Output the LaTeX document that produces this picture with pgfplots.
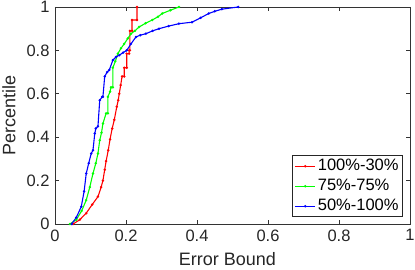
\documentclass[border=0pt]{standalone}
\usepackage{pgfplots}
\pgfplotsset{compat=1.18}
\usepackage{fontspec}
\setmainfont{Liberation Sans}
\definecolor{mred}{rgb}{1,0,0}
\definecolor{mgreen}{rgb}{0,1,0}
\definecolor{mblue}{rgb}{0,0,1}

\begin{document}
\begin{tikzpicture}
\begin{axis}[
    scale only axis,
    width=355pt, height=217pt,
    xmin=0, xmax=1, ymin=0, ymax=1,
    xtick={0,0.2,...,1}, ytick={0,0.2,...,1},
    xticklabels={0,0.2,0.4,0.6,0.8,1},
    yticklabels={0,0.2,0.4,0.6,0.8,1},
    tick align=inside,
    tick pos=both,
    major tick length=4pt,
    axis line style={black!80, line width=0.6pt},
    every tick/.style={black!80, line width=0.6pt},
    tick label style={font=\fontsize{16.5}{19}\selectfont, text=black!85},
    xticklabel style={yshift=-2pt},
    yticklabel style={xshift=-2pt},
    label style={font=\fontsize{18}{20}\selectfont, text=black!85},
    /pgf/number format/assume math mode=true,
    xlabel={Error Bound},
    ylabel={Percentile},
    xlabel style={at={(axis description cs:0.5,-0.163)}, anchor=center, xshift=-5pt},
    ylabel style={at={(axis description cs:-0.13,0.5)}, anchor=center},
    legend style={at={(0.980,0.032)}, anchor=south east, draw=black!85, line width=0.6pt,
        font=\fontsize{16.5}{19}\selectfont, inner xsep=2pt, inner ysep=1pt, row sep=1pt,
        nodes={inner ysep=2pt, text height=11.5pt, text depth=3.5pt}},
    legend cell align=left,
    legend image code/.code={
        \draw[mark repeat=2, mark phase=2] plot coordinates {(0cm,0cm) (10pt,0cm) (20pt,0cm)};},
    every axis plot/.append style={line width=1.1pt, mark=*, mark size=0.6pt},
]
\addplot[color=mred] coordinates {
(0.051,0) (0.070,0.02) (0.088,0.05) (0.105,0.09) (0.121,0.126) (0.130,0.17) (0.135,0.20)
(0.140,0.25) (0.144,0.29) (0.150,0.34) (0.155,0.39) (0.161,0.44) (0.167,0.48)
(0.174,0.54) (0.178,0.57) (0.181,0.60) (0.185,0.64) (0.189,0.68) (0.195,0.68)
(0.195,0.72) (0.202,0.72) (0.202,0.785) (0.209,0.785) (0.209,0.80) (0.211,0.80)
(0.211,0.89) (0.217,0.89) (0.217,0.94) (0.231,0.94) (0.231,1.0)
};
\addplot[color=mgreen] coordinates {
(0.042,0) (0.060,0.02) (0.075,0.06) (0.088,0.11) (0.098,0.17) (0.107,0.233)
(0.115,0.28) (0.121,0.325) (0.126,0.386) (0.131,0.42) (0.135,0.463) (0.144,0.51)
(0.149,0.51) (0.149,0.586) (0.155,0.61) (0.158,0.63) (0.163,0.63) (0.163,0.72)
(0.170,0.75) (0.177,0.785) (0.186,0.81) (0.195,0.83) (0.205,0.855) (0.214,0.877)
(0.225,0.89) (0.237,0.908) (0.255,0.925) (0.274,0.94) (0.290,0.955) (0.302,0.97)
(0.325,0.985) (0.349,1.0)
};
\addplot[color=mblue] coordinates {
(0.047,0) (0.060,0.03) (0.074,0.08) (0.082,0.15) (0.088,0.233) (0.095,0.28)
(0.102,0.325) (0.107,0.34) (0.112,0.417) (0.115,0.44) (0.121,0.45) (0.126,0.57)
(0.133,0.586) (0.135,0.586) (0.140,0.68) (0.147,0.70) (0.153,0.71) (0.163,0.755)
(0.172,0.77) (0.181,0.778) (0.192,0.79) (0.202,0.80) (0.214,0.83) (0.228,0.862)
(0.240,0.87) (0.256,0.877) (0.275,0.89) (0.293,0.90) (0.320,0.912) (0.349,0.923)
(0.386,0.93) (0.410,0.95) (0.433,0.97) (0.450,0.98) (0.470,0.99) (0.516,1.0)
};
\legend{100\%-30\%,75\%-75\%,50\%-100\%}
\end{axis}
\pgfresetboundingbox
\path (-55pt,-46pt) rectangle (360pt,224pt);
\end{tikzpicture}
\end{document}
